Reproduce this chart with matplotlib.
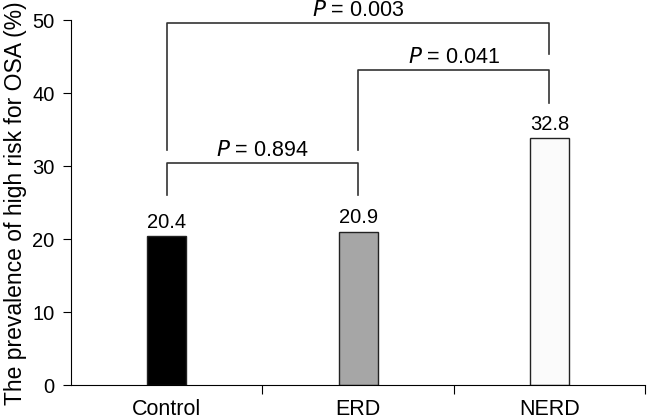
import matplotlib.pyplot as plt

plt.rcParams['font.family'] = ['Liberation Sans', 'DejaVu Sans']

groups = ['Control', 'ERD', 'NERD']
heights = [20.4, 21.0, 33.8]
value_labels = ['20.4', '20.9', '32.8']
bar_colors = ['#000000', '#a6a6a6', '#fbfbfb']

# (left group, right group, bar y, left leg bottom, right leg bottom, text)
brackets = [
    (0, 1, 30.5, 26.0, 26.0, '0.894'),
    (1, 2, 43.2, 32.2, 38.6, '0.041'),
    (0, 2, 49.6, 32.2, 45.3, '0.003'),
]

fig = plt.figure(figsize=(6.47, 4.19), dpi=100)
ax = fig.add_axes([0.110, 0.080, 0.887, 0.872])

x = list(range(len(groups)))
ax.bar(x, heights, width=0.205, color=bar_colors, edgecolor='#222222', linewidth=1.0)

for xi, h, lab in zip(x, heights, value_labels):
    ax.text(xi, h + 1.2, lab, ha='center', va='baseline', fontsize=14.5)

for g1, g2, yb, l1, l2, p in brackets:
    ax.plot([g1, g1, g2, g2], [l1, yb, yb, l2], color='#333333', lw=1.2, clip_on=False)
    ax.text((g1 + g2) / 2, yb + 0.9, r'$P$ = ' + p, ha='center', va='baseline',
            fontsize=15.5, clip_on=False)

ax.set_xlim(-0.5, 2.5)
ax.set_ylim(0, 50)
ax.set_yticks([0, 10, 20, 30, 40, 50])
ax.set_xticks([0.5, 1.5, 2.5])
ax.set_xticklabels([])
for xi, g in zip(x, groups):
    ax.text(xi, -1.9, g, ha='center', va='top', fontsize=15.5)

ax.spines['top'].set_visible(False)
ax.spines['right'].set_visible(False)
ax.tick_params(axis='y', labelsize=14.5, length=6, pad=6, direction='out')
ax.tick_params(axis='x', length=6.5, direction='out')
ax.set_ylabel('The prevalence of high risk for OSA (%)', fontsize=16.5, labelpad=4)

fig.savefig('out.png', dpi=100)
